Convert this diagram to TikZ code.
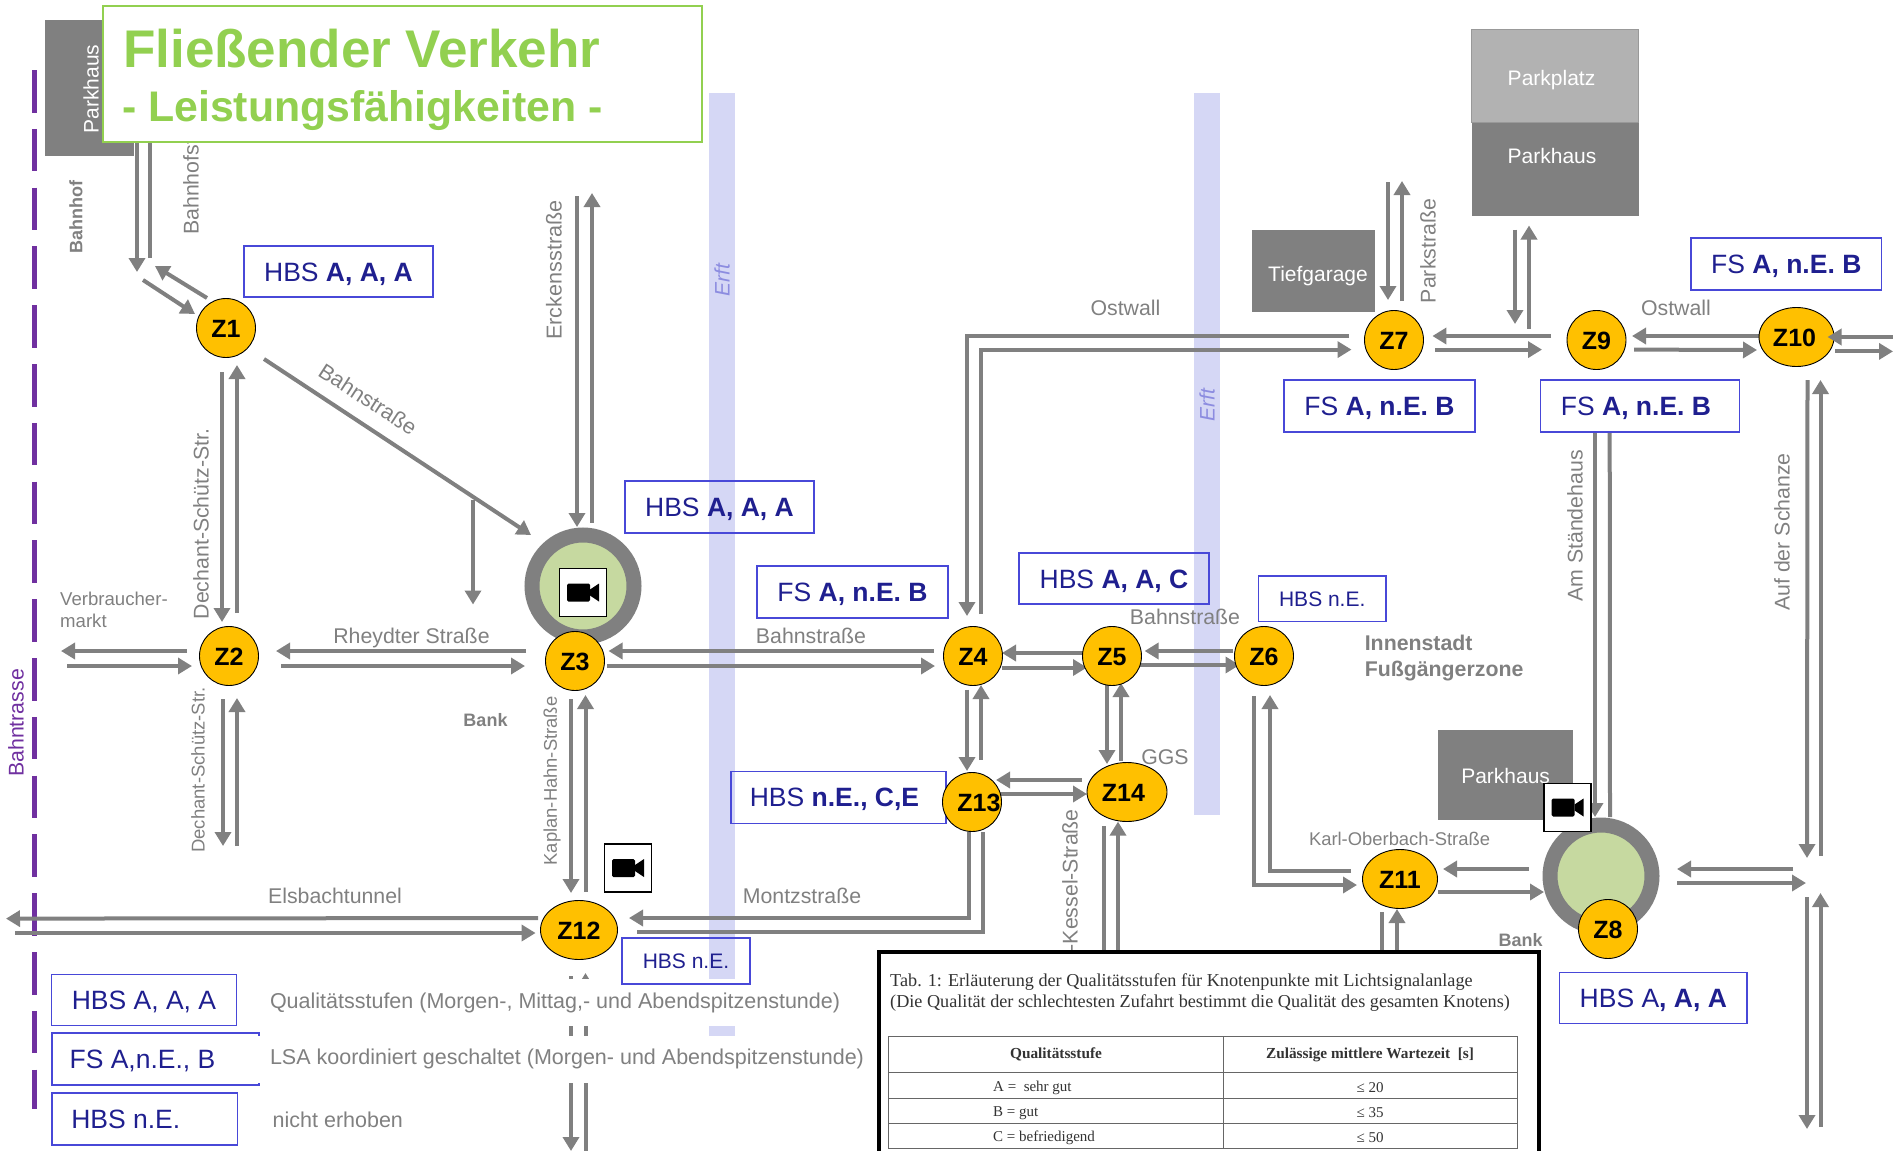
\documentclass[tikz,border=0pt]{standalone}
\usepackage{fontspec}
\setmainfont{Liberation Sans}
\newfontfamily\tabfont{Liberation Serif}
\usepackage{xcolor}
\definecolor{roadGray}{HTML}{808080}
\definecolor{lotLight}{HTML}{B2B2B2}
\definecolor{junctionAmber}{HTML}{FFC000}
\definecolor{titleGreen}{HTML}{92D050}
\definecolor{qualBlue}{HTML}{4848D8}
\definecolor{qualText}{HTML}{1F1F8F}
\definecolor{erftBlue}{HTML}{D5D7F5}
\definecolor{erftText}{HTML}{8C8CE0}
\definecolor{trackPurple}{HTML}{7030A0}
\definecolor{ringGreen}{HTML}{C6D9A0}
\usetikzlibrary{
    shapes.geometric,
    arrows.meta,
    positioning,
    backgrounds
}
\newcommand{\fsz}[1]{\fontsize{#1}{#1}\selectfont}
\tikzset{
    % Numbered junctions
    junction/.style={
        ellipse,
        draw=black,
        line width=0.9pt,
        fill=junctionAmber,
        font=\bfseries\fsz{25},
        text=black,
        text height=18pt,
        text depth=0pt,
        minimum width=59pt,
        minimum height=59pt,
        inner sep=0pt,
        outer sep=0pt,
    },
    % Roundabouts
    ring/.style={
        circle,
        draw=roadGray,
        line width=15pt,
        fill=ringGreen,
        minimum size=102pt,
        inner sep=0pt,
        outer sep=0pt,
    },
    % Quality level boxes
    qualbox/.style={
        rectangle,
        draw=qualBlue,
        line width=1.1pt,
        text=qualText,
        font=\fsz{26.5},
        text height=19pt,
        text depth=0pt,
        minimum width=190pt,
        minimum height=51pt,
        inner sep=0pt,
        outer sep=0pt,
    },
    qualsmall/.style={
        font=\fsz{21},
        text height=15pt,
    },
    % Parking areas
    lot/.style={
        rectangle,
        fill=roadGray,
        inner sep=0pt,
        outer sep=0pt,
    },
    lottext/.style={
        text=white,
        font=\fsz{21},
        inner sep=0pt,
    },
    street/.style={
        text=roadGray,
        font=\fsz{#1},
        inner sep=0pt,
    },
    street/.default=21.3,
    place/.style={
        text=roadGray,
        font=\bfseries\fsz{#1},
        inner sep=0pt,
    },
    place/.default=18,
    erftlabel/.style={
        text=erftText,
        font=\itshape\fsz{21},
        inner sep=0pt,
        rotate=90,
    },
    legendtext/.style={
        text=roadGray,
        fill=white,
        font=\fsz{21.5},
        minimum height=47pt,
        inner sep=0pt,
        outer sep=0pt,
        anchor=west,
    },
    camerabox/.style={
        rectangle,
        draw=black,
        line width=1.6pt,
        fill=white,
        minimum width=47pt,
        minimum height=48pt,
        outer sep=0pt,
    },
    videocam/.pic={
        \fill[black, rounded corners=1.5pt] (-16,-9) rectangle (7,9);
        \fill[black] (7,-3) -- (16,-9) -- (16,9) -- (7,3) -- cycle;
    },
    tabletext/.style={
        text=black!80,
        font=\tabfont\fsz{#1},
        inner sep=0pt,
    },
    % Road lines
    stub/.style={
        line width=4pt,
        draw=roadGray,
    },
    arrow/.style={
        stub,
        -{Triangle[length=14pt, width=16pt]},
    },
}

\begin{document}
\begin{tikzpicture}[x=1pt, y=-1pt]
    % Junctions
    \node (z1) [junction] at (226,328) {Z1};
    \node (z2) [junction] at (229,656) {Z2};
    \node (ring3) [ring] at (583,586) {};
    \node (z3) [junction] at (575,661) {Z3};
    \node (z4) [junction] at (973,656) {Z4};
    \node (z5) [junction, right of=z4, node distance=139pt] {Z5};
    \node (z6) [junction, right of=z5, node distance=152pt] {Z6};
    \node (z7) [junction] at (1394,340) {Z7};
    \node (ring8) [ring] at (1601,876) {};
    \node (z8) [junction] at (1608,929) {Z8};
    \node (z9) [junction, right of=z7, node distance=202.5pt] {Z9};
    \node (z10) [junction, minimum width=75pt] at (1796.5,337) {\hspace{-4pt}Z10};
    \node (z11) [junction, minimum width=75pt] at (1400,879) {Z11};
    \node (z12) [junction, minimum width=77pt] at (579,930) {Z12};
    \node (z14) [junction, minimum width=80pt] at (1127,792) {\hspace{-7pt}Z14};

    % Parking
    \node (parkhausA) [lot, minimum width=89pt, minimum height=136pt] at (89.5,88) {};
    \node (parkhausAtext) [lottext, rotate=90] at (91,89) {Parkhaus};
    \node (tiefgarage) [lot, minimum width=123pt, minimum height=82.5pt] at (1313.5,271) {};
    \node (tiefgaragetext) [lottext] at (1318,276) {Tiefgarage};
    \node (parkplatz) [lot, fill=lotLight, draw=roadGray!80, line width=0.8pt, minimum width=166.5pt, minimum height=93pt] at (1555,76) {};
    \node (parkplatztext) [lottext] at (1551.5,80) {Parkplatz};
    \node (parkhausB) [lot, below of=parkplatz, node distance=93pt, minimum width=167pt, minimum height=93pt] {};
    \node (parkhausBtext) [lottext] at (1552,156) {Parkhaus};
    \node (parkhausC) [lot, minimum width=135pt, minimum height=90pt] at (1505.5,775) {};
    \node (parkhausCtext) [lottext] at (1505.6,776) {Parkhaus};

    % Street names
    \node (bahnhofstr) [street, rotate=90, anchor=west] at (191,235) {Bahnhofstraße};
    \node (bahnhof) [place, rotate=90] at (76,217) {Bahnhof};
    \node (bahntrasse) [street, text=trackPurple, rotate=90] at (16,723) {Bahntrasse};
    \node (dechantA) [street=21.3, rotate=90] at (201,524) {Dechant-Schütz-Str.};
    \node (dechantB) [street=18.5, rotate=90] at (198,770) {Dechant-Schütz-Str.};
    \node (kaplan) [street=18.4, rotate=90] at (552,781) {Kaplan-Hahn-Straße};
    \node (erckens) [street=21.6, rotate=90] at (554,270) {Erckensstraße};
    \node (bahnstrA) [street=21.6, rotate=-33] at (368,399) {Bahnstraße};
    \node (bahnstrB) [street] at (811,636) {Bahnstraße};
    \node (bahnstrC) [street] at (1185,617) {Bahnstraße};
    \node (rheydter) [street] at (411.5,637.5) {Rheydter Straße};
    \node (verbraucher) [street, font=\fontsize{18.6}{22}\selectfont, anchor=west, align=left] at (60,609.5) {Verbraucher-\\markt};
    \node (bankA) [place] at (485.5,720) {Bank};
    \node (bankB) [place] at (1520.5,940.5) {Bank};
    \node (montz) [street] at (802,896) {Montzstraße};
    \node (elsbach) [street] at (335,896) {Elsbachtunnel};
    \node (kessel) [street, rotate=90, anchor=east] at (1070,809) {-Kessel-Straße};
    \node (ggs) [street] at (1165,757) {GGS};
    \node (innenstadt) [place, font=\bfseries\fontsize{21.3}{26.5}\selectfont, anchor=west, align=left] at (1364.6,658) {Innenstadt\\Fußgängerzone};
    \node (karl) [street=18.4] at (1399.5,838.6) {Karl-Oberbach-Straße};
    \node (ostwallA) [street] at (1125.5,307.6) {Ostwall};
    \node (ostwallB) [street] at (1676,308) {Ostwall};
    \node (parkstr) [street, rotate=90] at (1428,251) {Parkstraße};
    \node (staende) [street, rotate=90] at (1575,526) {Am Ständehaus};
    \node (schanze) [street, rotate=90] at (1782,532) {Auf der Schanze};
    \node (erftA) [erftlabel] at (722,280) {Erft};
    \node (erftB) [erftlabel] at (1207,405) {Erft};

    % Legend
    \node (qualLegB) [qualbox, minimum width=207pt, minimum height=52pt] at (155.5,1059) {\hspace{-26pt}FS A,n.E., B};
    \node (legendA) [legendtext] at (265,1002.5) {\makebox[578pt][l]{\hspace{5pt}Qualitätsstufen (Morgen-, Mittag,- und Abendspitzenstunde)}};
    \node (legendB) [legendtext] at (258,1059) {\makebox[611pt][l]{\hspace{12pt}LSA koordiniert geschaltet (Morgen- und Abendspitzenstunde)}};
    \node (legendC) [legendtext, fill=none] at (272.7,1120) {nicht erhoben};
    \node (qualLegA) [qualbox, minimum width=185pt] at (144,1000.25) {HBS A, A, A};
    \node (qualLegC) [qualbox, minimum width=185.6pt, minimum height=52pt] at (144.8,1119) {\hspace{-38pt}HBS n.E.};

    % Quality levels
    \node (qualZ1) [qualbox, minimum width=189pt] at (338.5,271.5) {HBS \textbf{A, A, A}};
    \node (qualZ3) [qualbox, minimum width=189pt, minimum height=52pt] at (719.5,507) {HBS \textbf{A, A, A}};
    \node (qualZ4) [qualbox, minimum width=191pt, minimum height=52pt] at (852.5,592) {FS \textbf{A, n.E. B}};
    \node (qualZ5) [qualbox, minimum width=190pt] at (1114,578.5) {HBS \textbf{A, A, C}};
    \node (qualZ6) [qualbox, qualsmall, minimum width=127.5pt, minimum height=45.5pt] at (1322.25,598.75) {HBS n.E.};
    \node (qualZ7) [qualbox, minimum width=191pt, minimum height=52pt] at (1379.5,406) {FS \textbf{A, n.E. B}};
    \node (qualZ8) [qualbox, minimum width=187.4pt] at (1653.3,998.3) {HBS A\textbf{, A, A}};
    \node (qualZ9) [qualbox, minimum width=199pt, minimum height=52pt] at (1640,406) {\hspace{-8pt}FS \textbf{A, n.E. B}};
    \node (qualZ10) [qualbox, minimum width=190.6pt, minimum height=52pt] at (1786.3,264) {FS \textbf{A, n.E. B}};
    \node (qualZ12) [qualbox, qualsmall, minimum width=128pt, minimum height=46pt] at (686,961) {HBS n.E.};
    \node (qualZ13) [qualbox, minimum width=215pt, minimum height=52pt] at (838.5,797.4) {\hspace{-8pt}HBS \textbf{n.E., C,E}};
    \node (z13) [junction] at (972,802) {};
    \node (z13text) [inner sep=0pt, text=black, font=\bfseries\fsz{25}] at (979,803) {Z13};

    % Cameras
    \node (camZ3) [camerabox] at (583,592.5) {};
    \node (camZ12) [camerabox] at (628,868) {};
    \node (camZ8) [camerabox] at (1567.5,807.5) {};
    \pic at (camZ3.center) {videocam};
    \pic at (camZ12.center) {videocam};
    \pic at (camZ8.center) {videocam};

    % Title
    \node (title) [rectangle, draw=titleGreen, line width=2pt, fill=white, minimum width=599pt, minimum height=136pt, outer sep=0pt] at (402.5,74) {};
    \node (titleA) [anchor=base west, inner sep=0pt, text=titleGreen, font=\bfseries\fsz{53}] at (123,67) {Fließender Verkehr};
    \node (titleB) [anchor=base west, inner sep=0pt, text=titleGreen, font=\bfseries\fsz{42.8}] at (122,121) {- Leistungsfähigkeiten -};

    % Table
    \node (tab) [rectangle, draw=black, line width=4.5pt, fill=white, minimum width=660pt, minimum height=220pt, anchor=north west, outer sep=0pt] at (879,952) {};
    \node (tabcapA) [tabletext=18.2, anchor=west] at (890,982) {Tab. 1: Erläuterung der Qualitätsstufen für Knotenpunkte mit Lichtsignalanlage};
    \node (tabcapB) [tabletext=18.2, anchor=west] at (890,1003.5) {(Die Qualität der schlechtesten Zufahrt bestimmt die Qualität des gesamten Knotens)};
    \draw[black!60, line width=1pt] (888,1036) rectangle (1517,1148);
    \draw[black!60, line width=1pt] (1223.6,1036) -- (1223.6,1148);
    \foreach \ruleY in {1072.6,1098,1123}
        \draw[black!60, line width=1pt] (888,\ruleY) -- (1517,\ruleY);
    \node (headL) [tabletext=15, font=\tabfont\bfseries\fsz{15.3}] at (1056,1054.5) {Qualitätsstufe};
    \node (headR) [tabletext=15, font=\tabfont\bfseries\fsz{15.3}] at (1370,1054.5) {Zulässige mittlere Wartezeit~~[s]};
    \foreach \rowY/\rowName/\rowVal [count=\rowI] in {1088/A =~~sehr gut/≤ 20, 1113/B = gut/≤ 35, 1137.5/C = befriedigend/≤ 50} {
        \node (rowL\rowI) [tabletext=15, anchor=west] at (993,\rowY) {\rowName};
        \node (rowR\rowI) [tabletext=15] at (1370,\rowY) {\rowVal};
    }

    % Free road ends
    \coordinate (bhfA) at (137,272);
    \coordinate (bhfB) at (150,258);
    \coordinate (bhfC) at (155,266);
    \coordinate (bhfD) at (143,280);
    \coordinate (verbA) at (61,651);
    \coordinate (verbB) at (67,666);
    \coordinate (dechA) at (223,846);
    \coordinate (dechB) at (237,846);
    \coordinate (erckA) at (577,196);
    \coordinate (erckB) at (592,193);
    \coordinate (branch) at (473,500);
    \coordinate (branchEnd) at (473,604.5);
    \coordinate (elsA) at (6,918.6);
    \coordinate (elsB) at (15,933);
    \coordinate (southA) at (571,1151);
    \coordinate (southB) at (585.5,1152);
    \coordinate (parkA) at (1388,182);
    \coordinate (parkB) at (1402,181);
    \coordinate (ostA) at (1515,324);
    \coordinate (ostB) at (1529,328.6);
    \coordinate (eastA) at (1893,337);
    \coordinate (eastB) at (1893,351.4);
    \coordinate (schA) at (1807,858);
    \coordinate (schB) at (1820.5,856);
    \coordinate (schC) at (1807,897);
    \coordinate (schD) at (1807,1129);
    \coordinate (schE) at (1820.5,1127);
    \coordinate (schF) at (1820.5,893);
    \coordinate (schG) at (1793,869);
    \coordinate (schH) at (1806,883);

    % Z10 eastbound tip lies over the junction
    \draw [arrow] (eastA) -- ([shift={(31,0)}]z10.center);

    \begin{pgfonlayer}{background}
        % Erft and railway
        \fill[erftBlue] (709,93) rectangle (735,1036);
        \fill[erftBlue] (1193.5,93) rectangle (1220,815);
        \draw[trackPurple, line width=5pt, dash pattern=on 42.5pt off 16.3pt] (34,70) -- (34,1109);

        \draw [arrow] ([xshift=34]title.south west) -- (bhfA);
        \draw [stub] (bhfB) -- ([xshift=47]title.south west);
        \draw [arrow] ([shift={(-19,-30)}]z1.center) -- (bhfC);
        \draw [arrow] (bhfD) -- ([shift={(-31,-14)}]z1.center);

        \draw [arrow] ([shift={(-4,44)}]z1.center) -- ([shift={(-7,-34)}]z2.center);
        \draw [arrow] ([shift={(8,-43)}]z2.center) -- ([shift={(11,37)}]z1.center);
        \draw [arrow] ([shift={(38,31)}]z1.center) -- ([shift={(-52,-51)}]ring3.center);
        \draw [arrow] (branch) -- (branchEnd);

        \draw [arrow] ([shift={(-49,-10)}]z3.center) -- ([shift={(47,-5)}]z2.center);
        \draw [arrow] ([shift={(52,10)}]z2.center) -- ([shift={(-50,5)}]z3.center);
        \draw [arrow] ([shift={(-42,-5)}]z2.center) -- (verbA);
        \draw [arrow] (verbB) -- ([shift={(-37,10)}]z2.center);
        \draw [arrow] ([shift={(-6,43)}]z2.center) -- (dechA);
        \draw [arrow] (dechB) -- ([shift={(8,42)}]z2.center);

        \draw [arrow] (erckA) -- ([shift={(-6,-59)}]ring3.center);
        \draw [arrow] ([shift={(9,-63.5)}]ring3.center) -- (erckB);

        \draw [arrow] ([shift={(-39,-5)}]z4.center) -- ([shift={(33.5,-10)}]z3.center);
        \draw [arrow] ([shift={(32,5)}]z3.center) -- ([shift={(-38,10)}]z4.center);
        \draw [arrow] ([shift={(-29,-3)}]z5.center) -- ([shift={(29,-3)}]z4.center);
        \draw [arrow] ([shift={(29,11.5)}]z4.center) -- ([shift={(-25,11.5)}]z5.center);
        \draw [arrow] ([shift={(-31,-5)}]z6.center) -- ([shift={(32.6,-5)}]z5.center);
        \draw [arrow] ([shift={(28,9)}]z5.center) -- ([shift={(-24.5,9)}]z6.center);

        \draw [arrow] ([shift={(-6,33.5)}]z4.center) -- ([shift={(-5,-31)}]z13.center);
        \draw [arrow] ([shift={(9,-42)}]z13.center) -- ([shift={(8,29)}]z4.center);
        \draw [arrow] ([shift={(-5,28)}]z5.center) -- ([shift={(-20,-28)}]z14.center);
        \draw [arrow] ([shift={(-6,-31)}]z14.center) -- ([shift={(9,27)}]z5.center);
        \draw [arrow] ([shift={(-45,-12)}]z14.center) -- ([shift={(24,-22)}]z13.center);
        \draw [arrow] ([shift={(28,-8)}]z13.center) -- ([shift={(-40,2)}]z14.center);
        \draw [stub] ([shift={(-23,34)}]z14.center) -- ([xshift=225]tab.north west);
        \draw [arrow] ([xshift=239]tab.north west) -- ([shift={(-9,29.6)}]z14.center);

        \draw [arrow] ([xshift=-3]z13.south) |- ([shift={(50,-12)}]z12.center);
        \draw [stub] ([shift={(58,2)}]z12.center) -| ([xshift=11]z13.south);
        \draw [arrow] ([shift={(-41,-12)}]z12.center) -- (elsA);
        \draw [arrow] (elsB) -- ([shift={(-43.4,3)}]z12.center);
        \draw [arrow] ([shift={(-4,38)}]z3.center) -- ([shift={(-8,-37)}]z12.center);
        \draw [arrow] ([shift={(6.5,-38)}]z12.center) -- ([shift={(10.5,34)}]z3.center);
        \draw [arrow] ([shift={(-8,46)}]z12.center) -- (southA);
        \draw [arrow] (southB) -- ([shift={(6.5,43)}]z12.center);

        \draw [arrow] ([shift={(-45,-4)}]z7.center) -| ([shift={(-6,-40)}]z4.center);
        \draw [arrow] ([shift={(8,-42)}]z4.center) |- ([shift={(-42.5,9.6)}]z7.center);
        \draw [arrow] ([shift={(-45.5,-4)}]z9.center) -- ([shift={(38.4,-4)}]z7.center);
        \draw [arrow] ([shift={(41,9.6)}]z7.center) -- ([shift={(-54.5,9.6)}]z9.center);
        \draw [arrow] ([shift={(-37.5,-1)}]z10.center) -- ([shift={(35.5,-4)}]z9.center);
        \draw [arrow] ([shift={(37.5,9.6)}]z9.center) -- ([shift={(-39.5,13)}]z10.center);
        \draw [arrow] ([shift={(38.5,14.4)}]z10.center) -- (eastB);
        \draw [arrow] (parkA) -- ([shift={(-6,-40)}]z7.center);
        \draw [arrow] ([shift={(8,-39)}]z7.center) -- (parkB);
        \draw [arrow] ([shift={(-40,14)}]parkhausB.south) -- (ostA);
        \draw [arrow] (ostB) -- ([shift={(-26,10)}]parkhausB.south);

        \draw [arrow] ([xshift=-45]qualZ9.south) -- ([shift={(-6,-59)}]ring8.center);
        \draw [stub] ([shift={(9,-59)}]ring8.center) -- ([xshift=-30.3]qualZ9.south);
        \draw [arrow] ([shift={(11,43)}]z10.center) -- (schA);
        \draw [arrow] (schB) -- ([shift={(24,43)}]z10.center);
        \draw [arrow] (schC) -- (schD);
        \draw [arrow] (schE) -- (schF);
        \draw [arrow] (schG) -- ([shift={(76,-7)}]ring8.center);
        \draw [arrow] ([shift={(76,7)}]ring8.center) -- (schH);
        \draw [arrow] ([shift={(-72,-7)}]ring8.center) -- ([shift={(43,-10)}]z11.center);
        \draw [arrow] ([shift={(38,13)}]z11.center) -- ([shift={(-57,16)}]ring8.center);
        \draw [arrow] ([shift={(-49,-8)}]z11.center) -| ([shift={(6,39)}]z6.center);
        \draw [arrow] ([shift={(-10,40)}]z6.center) |- ([shift={(-43,6)}]z11.center);
        \draw [stub] ([shift={(-18,33)}]z11.center) -- ([xshift=503]tab.north west);
        \draw [arrow] ([xshift=518]tab.north west) -- ([shift={(-3,30)}]z11.center);
    \end{pgfonlayer}

    \pgfresetboundingbox
    \useasboundingbox (0,0) rectangle (1893,1151);
\end{tikzpicture}
\end{document}
